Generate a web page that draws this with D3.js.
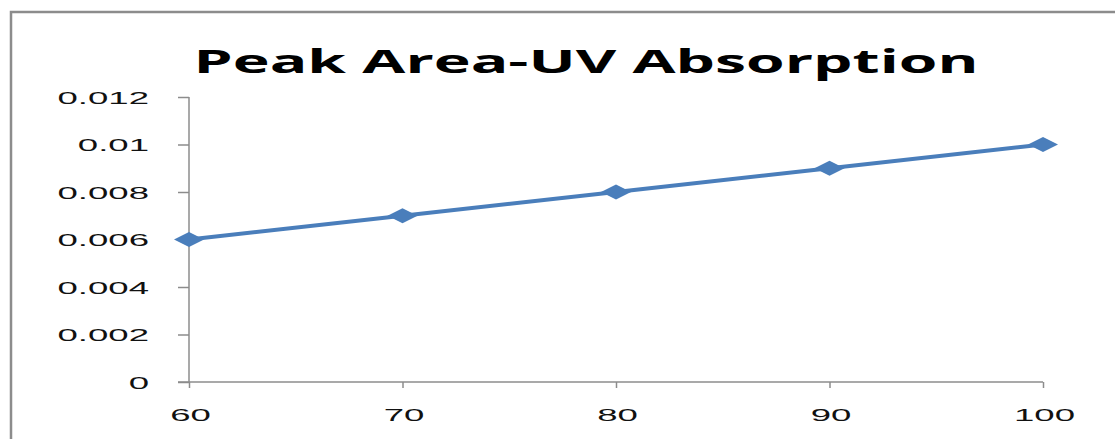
<!DOCTYPE html>
<html>
<head>
<meta charset="utf-8">
<script src="https://cdn.jsdelivr.net/npm/d3@7"></script>
<style>
  html, body { margin: 0; padding: 0; background: #fff; }
  svg { display: block; }
</style>
</head>
<body>
<svg id="chart" width="1115" height="439"></svg>
<script>
// Concentration (x) and peak area (y)
const concentrations = [60, 70, 80, 90, 100];
const peakAreas = [0.006, 0.007, 0.008, 0.009, 0.01];
const xTicks = [60, 70, 80, 90, 100];
const yTicks = [0, 0.002, 0.004, 0.006, 0.008, 0.01, 0.012];
const yTickLabels = ["0", "0.002", "0.004", "0.006", "0.008", "0.01", "0.012"];
const chartTitle = "Peak Area-UV Absorption";

const svg = d3.select("#chart");
const W = 1115, H = 439;
const plot = { left: 189, right: 1043, top: 97, bottom: 382 };

const x = d3.scaleLinear().domain([60, 100]).range([plot.left, plot.right]);
const y = d3.scaleLinear().domain([0, 0.012]).range([plot.bottom, plot.top]);

const axisColor = "#8c8c8c";
const lineColor = "#4a7ebb";
const labelFont = "'Liberation Sans', Arial, sans-serif";
const stretch = 2.15; // wide tick label glyphs

// Chart frame (left and top edges)
svg.append("path")
  .attr("d", `M11,${H} L11,12 L${W},12`)
  .attr("fill", "none")
  .attr("stroke", axisColor)
  .attr("stroke-width", 2.5);

// Title
const title = svg.append("text")
  .attr("font-family", "'Open Sans', 'DejaVu Sans', sans-serif")
  .attr("font-weight", 700)
  .attr("font-size", 33)
  .attr("fill", "#000")
  .attr("text-anchor", "middle")
  .text(chartTitle);
const tw = title.node().getComputedTextLength();
title.attr("transform", `translate(586,73) scale(${785 / tw},1)`);

// Y axis
const yAxis = d3.axisLeft(y).tickValues(yTicks).tickSize(11).tickPadding(0)
  .tickFormat((d, i) => yTickLabels[i]);
const gy = svg.append("g").attr("transform", `translate(${plot.left},0)`).call(yAxis);
gy.select(".domain").attr("stroke", axisColor).attr("stroke-width", 1.5)
  .attr("d", `M0,${plot.top}V${plot.bottom}`);
gy.selectAll(".tick line").attr("stroke", axisColor).attr("stroke-width", 1.5);
gy.selectAll(".tick text")
  .attr("font-family", labelFont).attr("font-size", 17).attr("fill", "#111")
  .attr("x", null).attr("dy", null)
  .attr("text-anchor", "end")
  .attr("transform", `translate(-40,6) scale(${stretch},1)`);

// X axis
const xAxis = d3.axisBottom(x).tickValues(xTicks).tickSize(6).tickPadding(0);
const gx = svg.append("g").attr("transform", `translate(0,${plot.bottom})`).call(xAxis);
gx.select(".domain").attr("stroke", axisColor).attr("stroke-width", 1.5)
  .attr("d", `M${plot.left - 11},0H${plot.right}`);
gx.selectAll(".tick line").attr("stroke", axisColor).attr("stroke-width", 1.5);
gx.selectAll(".tick text")
  .attr("font-family", labelFont).attr("font-size", 17).attr("fill", "#111")
  .attr("y", null).attr("dy", null)
  .attr("text-anchor", "middle")
  .attr("transform", `translate(1,39) scale(${stretch},1)`);

// Series line
const pts = concentrations.map((c, i) => [c, peakAreas[i]]);
svg.append("path")
  .datum(pts)
  .attr("fill", "none")
  .attr("stroke", lineColor)
  .attr("stroke-width", 4)
  .attr("stroke-linejoin", "round")
  .attr("d", d3.line().x(d => x(d[0])).y(d => y(d[1])));

// Diamond markers
svg.selectAll("path.marker")
  .data(pts)
  .join("path")
  .attr("class", "marker")
  .attr("fill", lineColor)
  .attr("d", d => {
    const cx = x(d[0]), cy = y(d[1]);
    return `M${cx - 15},${cy} L${cx},${cy - 7.5} L${cx + 15},${cy} L${cx},${cy + 7.5} Z`;
  });
</script>
</body>
</html>
